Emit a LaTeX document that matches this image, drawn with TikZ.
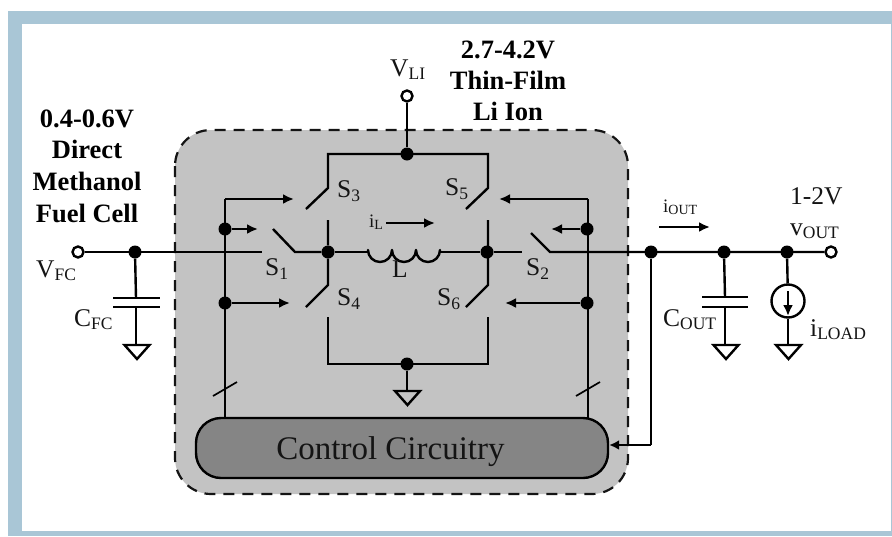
\documentclass[tikz,border=0pt]{standalone}
\usepackage{fontspec}
\setmainfont{Liberation Serif}
\usetikzlibrary{arrows.meta}
\definecolor{framec}{HTML}{A9C6D6}
\definecolor{boxc}{HTML}{C3C3C3}
\definecolor{ctrlc}{HTML}{858585}
\definecolor{inkc}{HTML}{141414}
\newcommand{\fs}[1]{\fontsize{#1}{#1}\selectfont}
\newcommand{\sbs}[1]{\raisebox{-3pt}{\fs{17.5}#1}}
\newcommand{\sbn}[1]{\raisebox{-4pt}{\fs{17.5}#1}}
\tikzset{
  x=1pt,y=-1pt,
  wire/.style={line width=2.4pt,draw=black,line join=miter},
  thinwire/.style={line width=1.7pt,draw=black},
  arr/.style={wire,-{Latex[length=11pt,width=10pt]}},
  jdot/.style={circle,fill=black,inner sep=0pt,minimum size=13pt},
  term/.style={circle,draw=black,line width=2.4pt,fill=white,inner sep=0pt,minimum size=11pt},
  lab/.style={anchor=base west,inner sep=0pt,text=inkc,font=\fs{25.5}},
  labs/.style={lab,font=\fs{19}},
  head/.style={anchor=base,inner sep=0pt,text=black,font=\fs{26.5}\bfseries},
  gnd/.style={line width=2.4pt,draw=black,line join=miter},
}
\newcommand{\groundsym}[3]{% name, x, y of top
  \coordinate (#1) at (#2,#3);
  \draw[gnd] (#2-12.5,#3) -- (#2+12.5,#3) -- (#2,#3+14) -- cycle;
}
\begin{document}
\begin{tikzpicture}
\useasboundingbox (0,0) rectangle (892,536);
\fill[white] (0,0) rectangle (892,536);
% frame
\fill[framec] (8,11) rectangle (892,24);
\fill[framec] (8,11) rectangle (22,536);
\fill[framec] (8,531) rectangle (892,536);
\fill[framec] (890.5,11) rectangle (892,536);
% dashed box
\draw[line width=2.2pt,fill=boxc,draw=inkc,dash pattern=on 11pt off 8pt,rounded corners=36pt] (175,130) rectangle (628,494);

% key points
\node[term] (vfc) at (78,252) {};
\node[term] (vout) at (831,252) {};
\node[term] (vli) at (407,96) {};
\node[jdot] (jc) at (135,252) {};
\node[jdot] (ja) at (328,252) {};
\node[jdot] (jb) at (487,252) {};
\node[jdot] (jt) at (407,154) {};
\node[jdot] (jg) at (407,364) {};
\node[jdot] (jl1) at (225,229) {};
\node[jdot] (jl2) at (225,303) {};
\node[jdot] (jr1) at (587,229) {};
\node[jdot] (jr2) at (587,303) {};
\node[jdot] (jo1) at (651,252) {};
\node[jdot] (jo2) at (724,252) {};
\node[jdot] (jo3) at (787,252) {};

% control block
\node[draw=black,line width=2.4pt,fill=ctrlc,rounded corners=25pt,minimum width=412pt,minimum height=60pt,inner sep=0pt,anchor=center] (ctrl) at (402,448) {};
\node[inner sep=0pt,text=inkc,font=\fs{33},anchor=base] (ctrltxt) at (390.5,459) {Control Circuitry};

% input line and S1
\coordinate (s1a) at (262,252);
\coordinate (s1k) at (295,252);
\coordinate (s1b) at (273,229);
\draw[wire] (vfc) -- (s1a);
\draw[wire] (s1b) -- (s1k) -- (ja);
% S2 and output
\coordinate (s2a) at (522,252);
\coordinate (s2k) at (550,252);
\coordinate (s2b) at (531,233);
\draw[wire] (jb) -- (s2a);
\draw[wire] (s2b) -- (s2k) -- (vout);
% inductor
\coordinate (la) at (368,252);
\coordinate (lb) at (440,252);
\draw[wire] (ja) -- (la);
\draw[wire] (lb) -- (jb);
\draw[wire,line join=round] (la) -- (368,250) arc[start angle=180,end angle=0,radius=12] -- (392,254) -- (392,250) arc[start angle=180,end angle=0,radius=12] -- (416,254) -- (416,250) arc[start angle=180,end angle=0,radius=12] -- (lb);
\coordinate (ila) at (386,223);
\coordinate (ilb) at (435,223);
\draw[arr] (ila) -- (ilb);

% S3, S4
\coordinate (s3k) at (328,188);
\coordinate (s3b) at (306,209);
\coordinate (s3c) at (328,154);
\coordinate (s5k) at (488,188);
\coordinate (s5b) at (466,209);
\coordinate (s5c) at (488,154);
\draw[wire] (vli) -- (jt);
\draw[wire] (s3b) -- (s3k) -- (s3c) -- (s5c) -- (s5k) -- (s5b);
\coordinate (s4k) at (328,285);
\coordinate (s4b) at (306,307);
\coordinate (s6k) at (488,285);
\coordinate (s6b) at (466,307);
\coordinate (ast) at (328,220);
\coordinate (bst) at (488,220);
\draw[wire] (ast) -- (ja) -- (s4k) -- (s4b);
\draw[wire] (bst) -- (488,252) -- (s6k) -- (s6b);
\coordinate (s4s) at (328,317);
\coordinate (s6s) at (488,317);
\coordinate (s4c) at (328,364);
\coordinate (s6c) at (488,364);
\draw[wire] (s4s) -- (s4c) -- (s6c) -- (s6s);
\draw[wire] (jg) -- (407,391);
\groundsym{g1}{407.5}{391}

% gate wires
\coordinate (lt) at (225,199);
\coordinate (ltA) at (294,199);
\coordinate (lb1) at (225,418);
\draw[wire] (lb1) -- (lt);
\draw[arr] (lt) -- (ltA);
\coordinate (l1A) at (258,229);
\coordinate (l2A) at (290,303);
\draw[arr] (jl1) -- (l1A);
\draw[arr] (jl2) -- (l2A);
\coordinate (rt) at (588,199);
\coordinate (rtA) at (499,199);
\coordinate (rb1) at (588,418);
\draw[wire] (rb1) -- (rt);
\draw[arr] (rt) -- (rtA);
\coordinate (r1A) at (551,229);
\coordinate (r2A) at (505,303);
\draw[arr] (jr1) -- (r1A);
\draw[arr] (jr2) -- (r2A);
% bus slashes
\coordinate (sl1) at (213,396);
\coordinate (sl2) at (237,382);
\coordinate (sr1) at (576,396);
\coordinate (sr2) at (600,382);
\draw[thinwire] (sl1) -- (sl2);
\draw[thinwire] (sr1) -- (sr2);

% feedback
\coordinate (fb) at (651,445);
\draw[wire] (jo1) -- (fb);
\draw[wire,-{Latex[length=10pt,width=10pt]}] (fb) -- (ctrl.east |- fb);

% CFC
\coordinate (cf1) at (136,298);
\coordinate (cf2) at (136,307);
\coordinate (cfa) at (113,298);
\coordinate (cfb) at (160,298);
\coordinate (cfc) at (113,307);
\coordinate (cfd) at (160,307);
\draw[wire] (jc) -- (cf1);
\draw[wire] (cfa) -- (cfb);
\draw[wire] (cfc) -- (cfd);
\draw[wire] (cf2) -- (136,345);
\groundsym{g2}{137}{345}

% COUT
\coordinate (co1) at (725,297);
\coordinate (co2) at (725,307);
\coordinate (coa) at (702,297);
\coordinate (cob) at (748,297);
\coordinate (coc) at (702,307);
\coordinate (cod) at (748,307);
\draw[wire] (jo2) -- (co1);
\draw[wire] (coa) -- (cob);
\draw[wire] (coc) -- (cod);
\draw[wire] (co2) -- (725,345);
\groundsym{g3}{726}{345}

% load
\node[circle,draw=black,line width=2.4pt,inner sep=0pt,minimum size=33pt] (iload) at (788,301) {};
\draw[wire] (jo3) -- (iload);
\draw[wire] (iload) -- (788,345);
\coordinate (ia1) at (788,291);
\coordinate (ia2) at (788,316);
\draw[arr] (ia1) -- (ia2);
\groundsym{g4}{788.5}{345}

% iOUT arrow
\coordinate (io1) at (659,227);
\coordinate (io2) at (710,227);
\draw[arr] (io1) -- (io2);

% labels
\node[head] (h1) at (508,58) {2.7-4.2V};
\node[head] (h2) at (508,89) {Thin-Film};
\node[head] (h3) at (508,120) {Li Ion};
\node[head] (h4) at (87,127) {0.4-0.6V};
\node[head] (h5) at (87,158) {Direct};
\node[head] (h6) at (87,190) {Methanol};
\node[head] (h7) at (87,222) {Fuel Cell};
\node[lab] (t12) at (790,204) {1-2V};
\node[lab] (lvout) at (790,235) {v\sbs{OUT}};
\node[lab] (lvli) at (390,76) {V\sbs{LI}};
\node[lab] (lvfc) at (36,277) {V\sbs{FC}};
\node[lab] (lcfc) at (74,326) {C\sbs{FC}};
\node[lab] (lcout) at (663,326) {C\sbs{OUT}};
\node[lab] (liload) at (810,336) {i\sbs{LOAD}};
\node[labs] (liout) at (663,212) {i\raisebox{-2pt}{\fs{14}OUT}};
\node[labs] (lil) at (369,227) {i\raisebox{-2pt}{\fs{14}L}};
\node[lab] (ll) at (392,277) {L};
\node[lab] (ls1) at (265,275) {S\sbn{1}};
\node[lab] (ls2) at (526,275) {S\sbn{2}};
\node[lab] (ls3) at (337,197) {S\sbn{3}};
\node[lab] (ls4) at (337,305) {S\sbn{4}};
\node[lab] (ls5) at (445,195) {S\sbn{5}};
\node[lab] (ls6) at (437,305) {S\sbn{6}};
\end{tikzpicture}
\end{document}
